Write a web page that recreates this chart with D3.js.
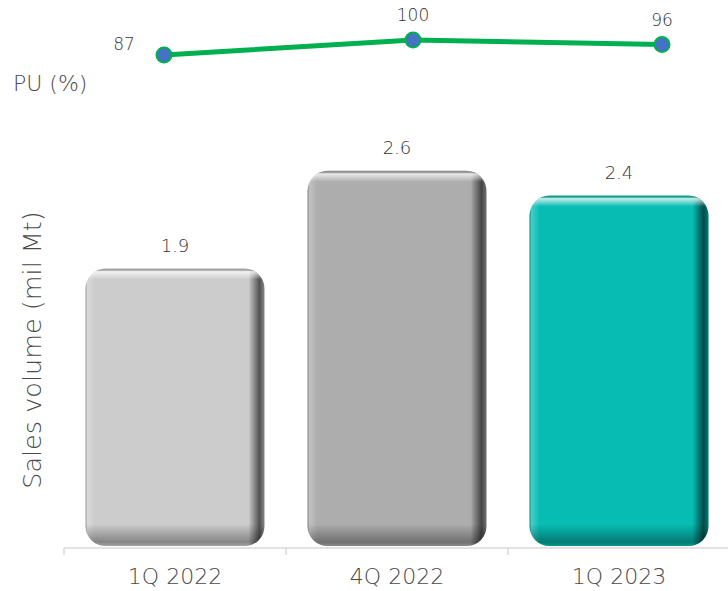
<!DOCTYPE html>
<html>
<head>
<meta charset="utf-8">
<script src="https://cdn.jsdelivr.net/npm/d3@7"></script>
<style>
  body { margin: 0; background: #fff; }
  text { font-family: "DejaVu Sans", "Open Sans", sans-serif; font-weight: 300; }
</style>
</head>
<body>
<div id="chart"></div>
<script>
// chart data
const categories = ["1Q 2022", "4Q 2022", "1Q 2023"];
const salesVolume = [1.9, 2.57, 2.4];
const salesLabels = ["1.9", "2.6", "2.4"];
const puValues = [87, 100, 96];
const barColors = ["#cccccc", "#adadad", "#07bdb3"];

const width = 728, height = 591;

const svg = d3.select("#chart").append("svg")
    .attr("width", width)
    .attr("height", height);

const defs = svg.append("defs");

// scales for the bar panel
const x = d3.scaleBand().domain(categories).range([64, 730]).padding(0);
const y = d3.scaleLinear().domain([0, 2.6]).range([546, 166.4]);
const barW = x.bandwidth() * 0.806;

// scales for the PU line panel
const xl = d3.scalePoint().domain(categories).range([164, 662]);
const yl = d3.scaleLinear().domain([85, 100]).range([57.3, 40]);

// axis line and ticks
const axisG = svg.append("g").attr("transform", "translate(0,548)");
axisG.append("line")
    .attr("x1", 64).attr("x2", 730)
    .attr("stroke", "#d9d9d9").attr("stroke-width", 1.5);
axisG.selectAll("line.tick")
    .data(categories.concat([null]))
    .join("line")
    .attr("class", "tick")
    .attr("x1", (d, i) => 64 + i * x.step())
    .attr("x2", (d, i) => 64 + i * x.step())
    .attr("y1", 0).attr("y2", 7)
    .attr("stroke", "#d9d9d9").attr("stroke-width", 1.5);

axisG.selectAll("text.cat")
    .data(categories)
    .join("text")
    .attr("class", "cat")
    .attr("x", d => x(d) + x.bandwidth() / 2)
    .attr("y", 36)
    .attr("text-anchor", "middle")
    .attr("font-size", 22)
    .attr("fill", "#4a4a4a")
    .text(d => d);

// bars with bevel-ish shading
const bars = categories.map((c, i) => {
    const bx = x(c) + (x.bandwidth() - barW) / 2;
    const by = y(salesVolume[i]);
    const bh = y(0) - by;
    return { c, i, bx, by, bh, v: salesVolume[i] };
});

bars.forEach(b => {
    const h = defs.append("linearGradient")
        .attr("id", "hg" + b.i)
        .attr("gradientUnits", "userSpaceOnUse")
        .attr("x1", b.bx).attr("x2", b.bx + barW)
        .attr("y1", 0).attr("y2", 0);
    [[0, "#000", 0.25], [2, "#fff", 0.25], [10, "#fff", 0],
     [barW - 16, "#000", 0], [barW - 5, "#000", 0.6], [barW, "#000", 0.35]]
        .forEach(s => h.append("stop")
            .attr("offset", s[0] / barW)
            .attr("stop-color", s[1])
            .attr("stop-opacity", s[2]));

    const v = defs.append("linearGradient")
        .attr("id", "vg" + b.i)
        .attr("gradientUnits", "userSpaceOnUse")
        .attr("x1", 0).attr("x2", 0)
        .attr("y1", b.by).attr("y2", b.by + b.bh);
    [[0, "#000", 0.15], [3, "#fff", 0.75], [11, "#fff", 0],
     [b.bh - 22, "#000", 0], [b.bh - 4, "#000", 0.35], [b.bh, "#000", 0.2]]
        .forEach(s => v.append("stop")
            .attr("offset", s[0] / b.bh)
            .attr("stop-color", s[1])
            .attr("stop-opacity", s[2]));
});

const barG = svg.append("g");
["base", "h", "v"].forEach(layer => {
    barG.selectAll("rect." + layer)
        .data(bars)
        .join("rect")
        .attr("class", layer)
        .attr("x", d => d.bx)
        .attr("y", d => d.by)
        .attr("width", barW)
        .attr("height", d => d.bh)
        .attr("rx", 20).attr("ry", 20)
        .attr("fill", d => layer === "base" ? barColors[d.i]
            : `url(#${layer}g${d.i})`);
});

// bar value labels
svg.selectAll("text.val")
    .data(bars)
    .join("text")
    .attr("class", "val")
    .attr("x", d => d.bx + barW / 2)
    .attr("y", d => d.by - 17)
    .attr("text-anchor", "middle")
    .attr("font-size", 18)
    .attr("fill", "#333")
    .text(d => salesLabels[d.i]);

// y axis title
svg.append("text")
    .attr("transform", "translate(41,350) rotate(-90)")
    .attr("text-anchor", "middle")
    .attr("font-size", 25.5)
    .attr("fill", "#4a4a4a")
    .text("Sales volume (mil Mt)");

// PU line
svg.append("text")
    .attr("x", 13).attr("y", 91)
    .attr("font-size", 22)
    .attr("fill", "#4a4a4a")
    .text("PU (%)");

const line = d3.line()
    .x((d, i) => xl(categories[i]))
    .y(d => yl(d));

svg.append("path")
    .datum(puValues)
    .attr("d", line)
    .attr("fill", "none")
    .attr("stroke", "#00b050")
    .attr("stroke-width", 5);

svg.selectAll("circle.pu")
    .data(puValues)
    .join("circle")
    .attr("class", "pu")
    .attr("cx", (d, i) => xl(categories[i]))
    .attr("cy", d => yl(d))
    .attr("r", 7.5)
    .attr("fill", "#4472c4")
    .attr("stroke", "#00b050")
    .attr("stroke-width", 2);

svg.selectAll("text.pu")
    .data(puValues)
    .join("text")
    .attr("class", "pu")
    .attr("x", (d, i) => i === 0 ? xl(categories[i]) - 40 : xl(categories[i]))
    .attr("y", (d, i) => i === 0 ? yl(d) - 5 : yl(d) - 19)
    .attr("text-anchor", "middle")
    .attr("font-size", 17)
    .attr("fill", "#333")
    .text(d => d);
</script>
</body>
</html>
